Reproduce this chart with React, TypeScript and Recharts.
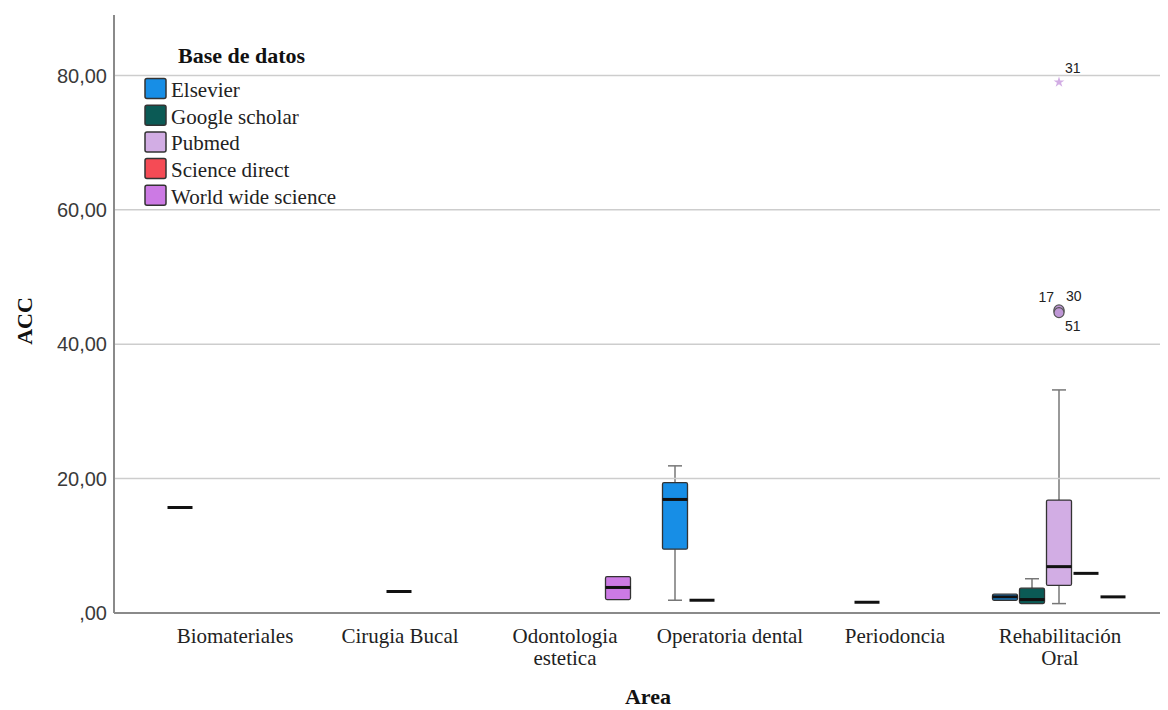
import { ComposedChart, Bar, XAxis, YAxis, ReferenceLine, Customized, Symbols } from "recharts";

// five-number summaries per area: [min, q1, median, q3, max]
type Box = [number, number, number, number, number] | null;

const areaLabels = [
  ["Biomateriales"],
  ["Cirugia Bucal"],
  ["Odontologia", "estetica"],
  ["Operatoria dental"],
  ["Periodoncia"],
  ["Rehabilitación", "Oral"],
];
const areas = areaLabels.map((l) => l.join(" "));

const yTicks = [0, 20, 40, 60, 80];
const gridValues = [20, 40, 60, 80];

const elsevier: Box[] = [
  [15.7, 15.7, 15.7, 15.7, 15.7],
  null,
  null,
  [1.9, 9.5, 16.9, 19.4, 21.9],
  null,
  [1.9, 1.9, 2.4, 2.8, 2.8],
];
const googleScholar: Box[] = [
  null,
  null,
  null,
  [1.9, 1.9, 1.9, 1.9, 1.9],
  [1.6, 1.6, 1.6, 1.6, 1.6],
  [1.4, 1.4, 2.0, 3.7, 5.1],
];
const pubmed: Box[] = [
  null,
  [3.2, 3.2, 3.2, 3.2, 3.2],
  null,
  null,
  null,
  [1.4, 4.1, 6.9, 16.8, 33.2],
];
const scienceDirect: Box[] = [null, null, null, null, null, [5.9, 5.9, 5.9, 5.9, 5.9]];
const worldWideScience: Box[] = [
  null,
  null,
  [2.0, 2.0, 3.8, 5.4, 5.4],
  null,
  null,
  [2.4, 2.4, 2.4, 2.4, 2.4],
];

// outliers (circle) and extremes (star) with case numbers
const pubmedOutliers = [
  { area: "Rehabilitación Oral", value: 44.9, id: "17" },
  { area: "Rehabilitación Oral", value: 45.1, id: "30" },
  { area: "Rehabilitación Oral", value: 44.7, id: "51" },
];
const pubmedExtremes = [{ area: "Rehabilitación Oral", value: 79.0, id: "31" }];

const series = [
  { key: "elsevier", name: "Elsevier", color: "#178ee6", boxes: elsevier },
  { key: "google", name: "Google scholar", color: "#0b5a55", boxes: googleScholar },
  { key: "pubmed", name: "Pubmed", color: "#d2ade4", boxes: pubmed },
  { key: "science", name: "Science direct", color: "#f54b55", boxes: scienceDirect },
  { key: "wws", name: "World wide science", color: "#cc7ae4", boxes: worldWideScience },
];

const chartData = areas.map((area, i) => {
  const row: any = { area };
  series.forEach((s) => {
    const b = s.boxes[i];
    row[s.key] = b ? [b[0], b[4]] : null;
    row[s.key + "Box"] = b;
    row[s.key + "Outliers"] = [];
    row[s.key + "Extremes"] = [];
  });
  row.pubmedOutliers = pubmedOutliers.filter((o) => o.area === area);
  row.pubmedExtremes = pubmedExtremes.filter((o) => o.area === area);
  return row;
});

const SERIF = "'Liberation Serif', 'Times New Roman', serif";
const SANS = "'Liberation Sans', Arial, sans-serif";

const fmt = (v: number) => (v === 0 ? ",00" : v.toFixed(2).replace(".", ","));

const BoxShape = (props: any) => {
  const { x, y, width, height, payload, seriesKey, color } = props;
  const box: Box = payload ? payload[seriesKey + "Box"] : null;
  if (!box) return <g />;
  const [lo, q1, med, q3, hi] = box;
  const top = Math.min(y, y + height);
  const span = Math.abs(height);
  // map a value onto the pixel span the bar covers (whisker low..high)
  const toY = (v: number) => (hi === lo ? top : top + (span * (hi - v)) / (hi - lo));
  const cx = x + width / 2;
  const left = x + 1;
  const right = x + width - 1;

  if (q1 === q3) {
    return <line x1={left} x2={right} y1={toY(med)} y2={toY(med)} stroke="#111" strokeWidth={3} />;
  }

  const outliers = payload[seriesKey + "Outliers"] || [];
  const extremes = payload[seriesKey + "Extremes"] || [];
  const labelPos = [
    { dx: -5, dy: -9, anchor: "end" },
    { dx: 7, dy: -9, anchor: "start" },
    { dx: 6, dy: 18, anchor: "start" },
  ];

  return (
    <g>
      {hi > q3 && (
        <g stroke="#777" strokeWidth={1.5}>
          <line x1={cx} x2={cx} y1={toY(hi)} y2={toY(q3)} />
          <line x1={cx - 7} x2={cx + 7} y1={toY(hi)} y2={toY(hi)} />
        </g>
      )}
      {lo < q1 && (
        <g stroke="#777" strokeWidth={1.5}>
          <line x1={cx} x2={cx} y1={toY(q1)} y2={toY(lo)} />
          <line x1={cx - 7} x2={cx + 7} y1={toY(lo)} y2={toY(lo)} />
        </g>
      )}
      <rect
        x={left}
        y={toY(q3)}
        width={right - left}
        height={toY(q1) - toY(q3)}
        fill={color}
        stroke="#333"
        strokeWidth={1.3}
        rx={1.5}
      />
      <line x1={left} x2={right} y1={toY(med)} y2={toY(med)} stroke="#111" strokeWidth={3} />
      {outliers.map((o: any, i: number) => (
        <circle key={"o" + i} cx={cx} cy={toY(o.value)} r={5} fill="#bf97d6" stroke="#555" strokeWidth={1.2} />
      ))}
      {outliers.map((o: any, i: number) => {
        const p = labelPos[i % labelPos.length];
        return (
          <text key={"ol" + i} x={cx + p.dx} y={toY(o.value) + p.dy} textAnchor={p.anchor as any}
            fontFamily={SANS} fontSize={14} fill="#222">
            {o.id}
          </text>
        );
      })}
      {extremes.map((o: any, i: number) => (
        <g key={"e" + i}>
          <Symbols cx={cx} cy={toY(o.value)} type="star" size={36} fill={color} />
          <text x={cx + 6} y={toY(o.value) - 9} fontFamily={SANS} fontSize={14} fill="#222">
            {o.id}
          </text>
        </g>
      ))}
    </g>
  );
};

const AreaTick = (props: any) => {
  const { x, y, payload } = props;
  const lines = areaLabels[areas.indexOf(payload.value)] || [payload.value];
  return (
    <text x={x} y={y + 28} textAnchor="middle" fontFamily={SERIF} fontSize={21} fill="#222">
      {lines.map((l, i) => (
        <tspan key={i} x={x} dy={i === 0 ? 0 : 22}>
          {l}
        </tspan>
      ))}
    </text>
  );
};

const Decorations = () => (
  <g fontFamily={SERIF} fill="#111">
    <text x={170} y={54.5} fontSize={22} fontWeight="bold">
      Base de datos
    </text>
    {series.map((s, i) => (
      <g key={s.key}>
        <rect x={137} y={70.5 + i * 26.7} width={21} height={20} rx={2} fill={s.color} stroke="#333" strokeWidth={1.5} />
        <text x={163} y={88.8 + i * 26.7} fontSize={21} fill="#222">
          {s.name}
        </text>
      </g>
    ))}
    <text x={640} y={696} textAnchor="middle" fontSize={22} fontWeight="bold">
      Area
    </text>
    <text x={24} y={313} textAnchor="middle" fontSize={22} fontWeight="bold" transform="rotate(-90 24 313)">
      ACC
    </text>
  </g>
);

export default function App() {
  return (
    <div style={{ width: 1160, height: 702, background: "#fff" }}>
      <ComposedChart
        width={1160}
        height={702}
        data={chartData}
        margin={{ top: 7, right: 0, bottom: 0, left: 0 }}
        barCategoryGap={14}
        barGap={0}
      >
        {gridValues.map((v) => (
          <ReferenceLine key={v} y={v} stroke="#cdcdcd" strokeWidth={1.5} />
        ))}
        <XAxis
          dataKey="area"
          type="category"
          height={97}
          interval={0}
          padding={{ left: 38.5, right: 25.5 }}
          tickLine={false}
          tickSize={0}
          tick={<AreaTick />}
          axisLine={{ stroke: "#8a8a8a", strokeWidth: 2 }}
        />
        <YAxis
          domain={[0, 89]}
          ticks={yTicks}
          allowDataOverflow
          width={106}
          tickLine={false}
          tickSize={0}
          tickMargin={7}
          tickFormatter={fmt}
          tick={{ fill: "#3a3a3a", fontSize: 20, fontFamily: SANS }}
          axisLine={{ stroke: "#8a8a8a", strokeWidth: 2 }}
        />
        {series.map((s) => (
          <Bar
            key={s.key}
            dataKey={s.key}
            name={s.name}
            isAnimationActive={false}
            shape={(p: any) => <BoxShape {...p} seriesKey={s.key} color={s.color} />}
          />
        ))}
        <Customized component={Decorations} />
      </ComposedChart>
    </div>
  );
}
